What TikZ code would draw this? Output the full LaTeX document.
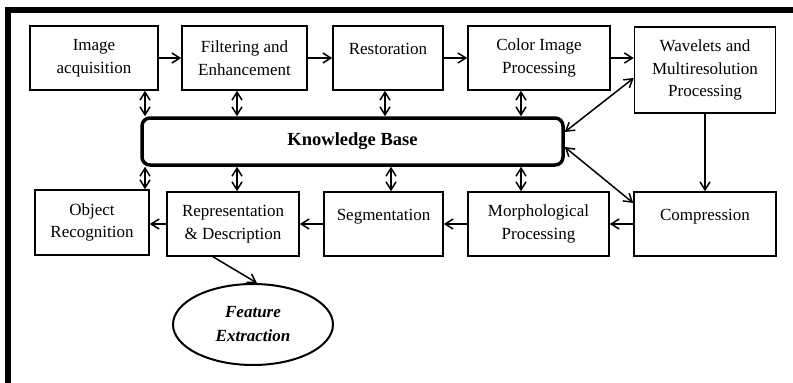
\documentclass[tikz,border=0pt]{standalone}
\usepackage{fontspec}
\setmainfont{Liberation Serif}
\usetikzlibrary{shapes.geometric,arrows.meta}
\begin{document}
\begin{tikzpicture}[x=1pt,y=-1pt,>={Straight Barb[length=8pt,width=10pt]},
	box/.style={draw,rectangle,line width=1.5pt,align=center,font=\fontsize{17}{22.5}\selectfont,minimum height=64},
	onebox/.style={box,text depth=19pt},
	kbox/.style={draw,rectangle,rounded corners=8pt,line width=3.5pt,minimum width=421,minimum height=47,font=\fontsize{18.5}{22}\selectfont\bfseries},
	fbox/.style={draw,ellipse,line width=2pt,minimum width=160,minimum height=81,align=center,font=\fontsize{17}{24}\selectfont\bfseries\itshape},
	arr/.style={->,line width=1.5pt},
	dbl/.style={<->,line width=1.5pt}]
		\useasboundingbox (0,0) rectangle (793,383);
		\draw[line width=6pt] (8,383)--(8,10)--(793,10);

		\draw (94,58) node (acq)[box,minimum width=128]{Image\\acquisition};
		\draw (244.5,58) node (filt)[box,minimum width=125]{Filtering and\\Enhancement};
		\draw (388,58) node (rest)[onebox,minimum width=110]{Restoration};
		\draw (539,58) node (color)[box,minimum width=142]{Color Image\\Processing};
		\draw (705,70) node (wave)[box,minimum width=141,minimum height=86]{Wavelets and\\Multiresolution\\Processing};

		\draw (352.5,141.5) node (kb)[kbox]{Knowledge Base};

		\draw (705,224) node (comp)[onebox,minimum width=142]{Compression};
		\draw (538.5,224) node (morph)[box,minimum width=141]{Morphological\\Processing};
		\draw (383.5,224) node (seg)[onebox,minimum width=119]{Segmentation};
		\draw (233,224) node (rep)[box,minimum width=132]{Representation\\\& Description};
		\draw (92,222.5) node (obj)[box,minimum width=114,minimum height=65]{Object\\Recognition};
		\draw (253,324.5) node (feat)[fbox]{Feature\\Extraction};

		\draw[arr] (acq)--(filt);
		\draw[arr] (filt)--(rest);
		\draw[arr] (rest)--(color);
		\draw[arr] (color.east)--(color.east -| wave.west);
		\draw[arr] (wave.south)--(wave.south |- comp.north);
		\draw[arr] (comp)--(morph);
		\draw[arr] (morph)--(seg);
		\draw[arr] (seg)--(rep);
		\draw[arr] (rep.west)--(rep.west -| obj.east);
		\draw[arr] ([xshift=-20]rep.south)--([xshift=4]feat.north);

		\draw[dbl] ([yshift=9.5]kb.east)--([yshift=-8]wave.west);
		\draw[dbl] ([yshift=-5.5]kb.east)--([yshift=21]comp.west);

		\coordinate (u1) at ([xshift=51]acq.south);
		\coordinate (u2) at ([xshift=-7.5]filt.south);
		\coordinate (u3) at ([xshift=-3]rest.south);
		\coordinate (u4) at ([xshift=-18]color.south);
		\draw[dbl] (u1)--(u1 |- kb.north);
		\draw[dbl] (u2)--(u2 |- kb.north);
		\draw[dbl] (u3)--(u3 |- kb.north);
		\draw[dbl] (u4)--(u4 |- kb.north);

		\coordinate (d1) at ([xshift=53]obj.north);
		\coordinate (d2) at ([xshift=4]rep.north);
		\coordinate (d3) at ([xshift=7.5]seg.north);
		\coordinate (d4) at ([xshift=-17.5]morph.north);
		\draw[dbl] (kb.south -| d1)--(d1);
		\draw[dbl] (kb.south -| d2)--(d2);
		\draw[dbl] (kb.south -| d3)--(d3);
		\draw[dbl] (kb.south -| d4)--(d4);
	\end{tikzpicture}
\end{document}
